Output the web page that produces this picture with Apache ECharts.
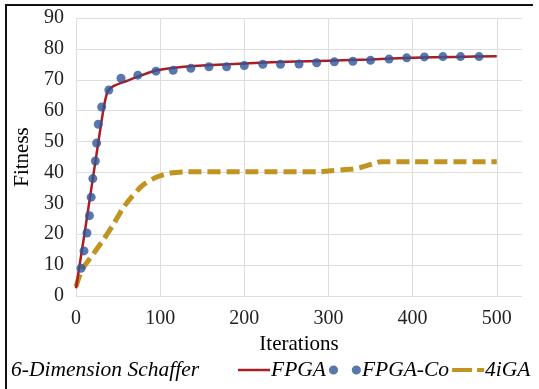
<!DOCTYPE html>
<html>
<head>
<meta charset="utf-8">
<script src="https://cdn.jsdelivr.net/npm/echarts@6/dist/echarts.min.js"></script>
<style>
  html, body { margin: 0; padding: 0; background: #fff; }
  #chart { width: 539px; height: 389px; }
</style>
</head>
<body>
<div id="chart"></div>
<script>
// FPGA (solid red line)
const fpgaIter = [0, 10, 20, 30, 34, 38, 45, 60, 75, 95, 120, 150, 200, 250, 300, 350, 400, 450, 500]
const fpgaFit = [2.5, 20, 38, 56, 62.5, 66.5, 68, 69.6, 71.2, 73, 74, 74.6, 75.3, 75.8, 76.2, 76.6, 77.1, 77.4, 77.6]

// FPGA-Co (blue dots)
const coIter = [6, 9.5, 13, 16, 18, 20, 23, 24.5, 26.5, 30.5, 39, 53.5, 73.5, 95, 115.5, 136.5, 158, 179,
  200, 222, 243, 265, 286, 307, 329, 350, 372, 393, 414, 436, 457, 479]
const coFit = [9, 14.6, 20.4, 26, 32, 38, 43.7, 49.5, 55.6, 61.2, 66.7, 70.5, 71.5, 72.8, 73.1, 73.7, 74.2, 74.2,
  74.6, 75.0, 75.0, 75.1, 75.5, 75.8, 76.0, 76.3, 76.7, 77.1, 77.4, 77.5, 77.5, 77.5]

// 4iGA (gold dashed line)
const igaIter = [0, 7, 17, 32, 44, 56, 66, 80, 96, 112, 132, 200, 290, 300, 325, 337, 355, 362, 400, 500]
const igaFit = [3, 8.4, 12.3, 18, 23, 28.5, 32, 36, 38.5, 39.8, 40.2, 40.2, 40.2, 40.5, 41, 41.5, 43, 43.5, 43.5, 43.5]

const yTicks = [0, 10, 20, 30, 40, 50, 60, 70, 80, 90]
const xTicks = [0, 100, 200, 300, 400, 500]

function pairs(xs, ys) {
  return xs.map((x, i) => [x, ys[i]])
}

const serif = '"Liberation Serif", "Times New Roman", serif'
const chart = echarts.init(document.getElementById('chart'))

chart.setOption({
  animation: false,
  title: {
    text: '6-Dimension Schaffer',
    left: 6,
    top: 354,
    textStyle: { fontFamily: serif, fontStyle: 'italic', fontWeight: 'normal', fontSize: 21.5, color: '#000' }
  },
  legend: {
    left: 238,
    top: 359,
    padding: 0,
    itemGap: 3,
    itemWidth: 32,
    itemHeight: 10,
    textStyle: { fontFamily: serif, fontStyle: 'italic', fontSize: 21.5, color: '#000', padding: [0, 0, 0, -4] },
    data: [
      { name: 'FPGA', icon: 'path://M0,4 L32,4 L32,6.5 L0,6.5 Z' },
      { name: 'FPGA-Co', icon: 'path://M4,5 m-4,0 a4,4 0 1,0 8,0 a4,4 0 1,0 -8,0 M24,5 m-4,0 a4,4 0 1,0 8,0 a4,4 0 1,0 -8,0' },
      { name: '4iGA', icon: 'path://M0,3 L20,3 L20,7 L0,7 Z M25,3 L32,3 L32,7 L25,7 Z' }
    ]
  },
  grid: { left: 76, right: 17, top: 18, bottom: 93, outerBoundsMode: 'none', containLabel: false },
  xAxis: {
    type: 'value',
    min: 0,
    max: 530,
    interval: 100,
    name: 'Iterations',
    nameLocation: 'middle',
    nameGap: 33,
    nameTextStyle: { fontFamily: serif, fontSize: 21, color: '#000' },
    axisLine: { show: false },
    axisTick: { show: false },
    axisLabel: {
      fontFamily: serif, fontSize: 20, color: '#222', margin: 13,
      showMaxLabel: false,
      formatter: v => (xTicks.indexOf(v) >= 0 ? String(v) : '')
    },
    splitLine: { show: true, showMaxLine: false, lineStyle: { color: '#dedede', width: 1 } }
  },
  yAxis: {
    type: 'value',
    min: 0,
    max: 90,
    interval: 10,
    name: 'Fitness',
    nameLocation: 'middle',
    nameGap: 42,
    nameTextStyle: { fontFamily: serif, fontSize: 21, color: '#000' },
    axisLine: { show: false },
    axisTick: { show: false },
    axisLabel: {
      fontFamily: serif, fontSize: 20, color: '#222', margin: 12,
      formatter: v => (yTicks.indexOf(v) >= 0 ? String(v) : '')
    },
    splitLine: { show: true, lineStyle: { color: '#dedede', width: 1 } }
  },
  graphic: [
    { type: 'line', shape: { x1: 6, y1: 5, x2: 6, y2: 389 }, style: { stroke: '#111', lineWidth: 2 } },
    { type: 'line', shape: { x1: 5, y1: 5, x2: 533, y2: 5 }, style: { stroke: '#111', lineWidth: 2 } }
  ],
  series: [
    {
      name: '4iGA',
      type: 'line',
      data: pairs(igaIter, igaFit),
      showSymbol: false,
      symbol: 'none',
      smooth: 0.3,
      color: '#BF9420',
      lineStyle: { width: 5, type: [13, 6], cap: 'butt' }
    },
    {
      name: 'FPGA',
      type: 'line',
      data: pairs(fpgaIter, fpgaFit),
      showSymbol: false,
      symbol: 'none',
      smooth: 0.2,
      color: '#A81E24',
      lineStyle: { width: 2.5 }
    },
    {
      name: 'FPGA-Co',
      type: 'scatter',
      data: pairs(coIter, coFit),
      symbolSize: 9,
      color: '#2F5597',
      z: 5
    }
  ]
})
</script>
</body>
</html>
